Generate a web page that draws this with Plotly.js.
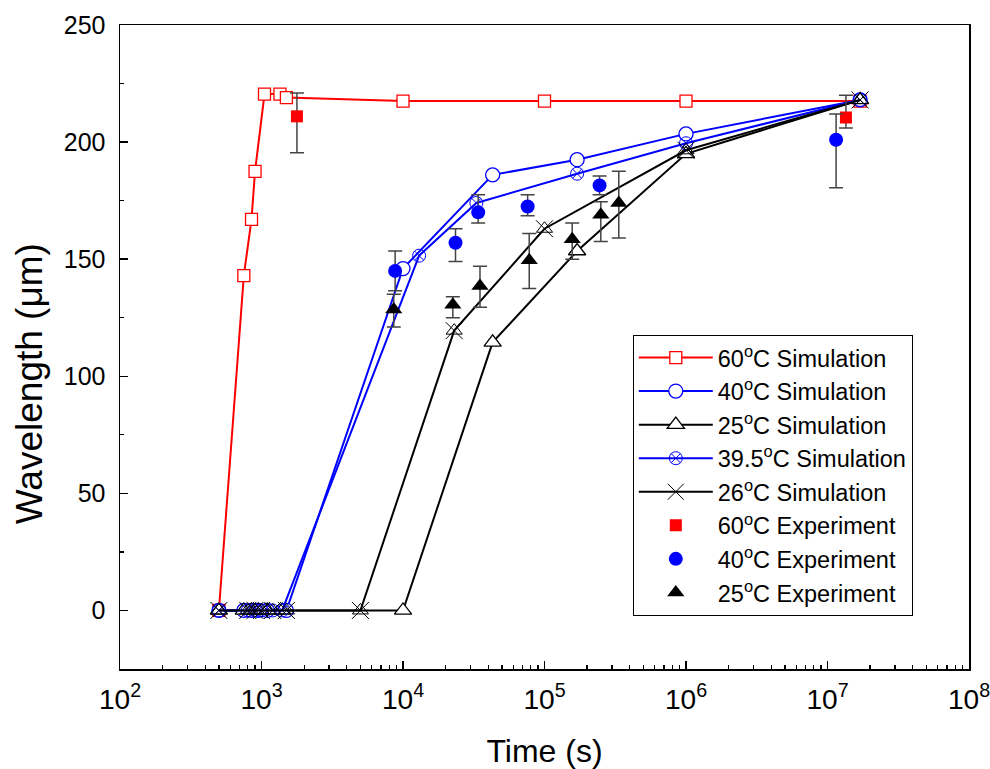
<!DOCTYPE html>
<html>
<head>
<meta charset="utf-8">
<script src="https://cdn.plot.ly/plotly-3.0.1.min.js"></script>
<style>html,body{margin:0;padding:0;background:#fff;}#chart{width:990px;height:769px;}</style>
</head>
<body>
<div id="chart"></div>
<script>
// Simulation series
const t60 = [500, 750, 850, 900, 1050, 1350, 1500, 1e4, 1e5, 1e6, 1.7e7];
const w60 = [0, 143, 167, 187.5, 220.5, 220.5, 219, 217.5, 217.5, 217.5, 217.5];

const t40 = [500, 750, 850, 950, 1100, 1500, 1e4, 4.3e4, 1.7e5, 1e6, 1.7e7];
const w40 = [0, 0, 0, 0, 0, 0, 146, 186, 192.5, 203.5, 218];

const t395 = [500, 800, 900, 1000, 1200, 1400, 1.3e4, 3.3e4, 1.7e5, 1e6, 1.7e7];
const w395 = [0, 0, 0, 0, 0, 0, 151.5, 174, 186.5, 199.5, 218];

const t25 = [500, 750, 850, 950, 1100, 1400, 1e4, 4.3e4, 1.7e5, 1e6, 1.7e7];
const w25 = [0, 0, 0, 0, 0, 0, 0, 114.5, 153.5, 195, 218];

const t26 = [500, 800, 900, 1000, 1200, 1500, 5000, 2.3e4, 1e5, 1e6, 1.7e7];
const w26 = [0, 0, 0, 0, 0, 0, 0, 119.5, 163, 196.5, 218];

// Experiment series
const tE60 = [1780, 1.35e7];
const wE60 = [211, 210.5];
const eE60p = [10, 9.5];
const eE60m = [15.5, 4.5];

const tE40 = [8800, 2.35e4, 3.4e4, 7.6e4, 2.45e5, 1.15e7];
const wE40 = [145, 157, 170, 172.5, 181.5, 201];
const eE40p = [8.5, 6, 7.5, 5, 4, 11];
const eE40m = [8.5, 8, 4.5, 4, 4, 20.5];

const tE25 = [8600, 2.25e4, 3.5e4, 7.8e4, 1.57e5, 2.5e5, 3.35e5];
const wE25 = [128.5, 130.5, 138.5, 149.5, 158.5, 169, 174];
const eE25p = [6.5, 3.5, 8.5, 11.5, 7, 5.5, 13.5];
const eE25m = [7.5, 5.5, 9, 12, 8.5, 11.5, 15];

const labels = ['60<sup>o</sup>C Simulation', '40<sup>o</sup>C Simulation', '25<sup>o</sup>C Simulation',
  '39.5<sup>o</sup>C Simulation', '26<sup>o</sup>C Simulation',
  '60<sup>o</sup>C Experiment', '40<sup>o</sup>C Experiment', '25<sup>o</sup>C Experiment'];

const xTitle = 'Time (s)';
const yTitle = 'Wavelength (\u03bcm)';

const RED = '#ff0000', BLUE = '#0000ff', BLACK = '#000000', ERR = '#444444';

function errObj(p, m) {
  return {type: 'data', symmetric: false, array: p, arrayminus: m, color: ERR, thickness: 1.5, width: 7};
}

const data = [
  {x: t60, y: w60, name: labels[0], mode: 'lines+markers', line: {color: RED, width: 2},
   marker: {symbol: 'square', size: 12, color: '#ffffff', line: {color: RED, width: 1.3}}},
  {x: t40, y: w40, name: labels[1], mode: 'lines+markers', line: {color: BLUE, width: 2},
   marker: {symbol: 'circle', size: 14, color: '#ffffff', line: {color: BLUE, width: 1.3}}},
  {x: t25, y: w25, name: labels[2], mode: 'lines+markers', line: {color: BLACK, width: 2},
   marker: {symbol: 'triangle-up', size: 15, color: '#ffffff', line: {color: BLACK, width: 1.3}}},
  {x: t395, y: w395, name: labels[3], mode: 'lines+markers', line: {color: BLUE, width: 2},
   marker: {symbol: 'circle-x-open', size: 13, color: BLUE, line: {color: BLUE, width: 1}}},
  {x: t26, y: w26, name: labels[4], mode: 'lines+markers', line: {color: BLACK, width: 2},
   marker: {symbol: 'x-thin-open', size: 17, color: BLACK, line: {color: BLACK, width: 1}}},
  {x: t26, y: w26, name: labels[4], mode: 'markers', showlegend: false,
   marker: {symbol: 'triangle-up-open', size: 14, color: BLACK, line: {color: BLACK, width: 1}}},
  {x: tE60, y: wE60, name: labels[5], mode: 'markers', error_y: errObj(eE60p, eE60m),
   marker: {symbol: 'square', size: 12, color: RED}},
  {x: tE40, y: wE40, name: labels[6], mode: 'markers', error_y: errObj(eE40p, eE40m),
   marker: {symbol: 'circle', size: 14, color: BLUE}},
  {x: tE25, y: wE25, name: labels[7], mode: 'markers', error_y: errObj(eE25p, eE25m),
   marker: {symbol: 'triangle-up', size: 15, color: BLACK}}
];

const FONT = 'Liberation Sans, Arial, sans-serif';

const layout = {
  width: 990, height: 769,
  margin: {l: 120, r: 21, t: 25, b: 100},
  paper_bgcolor: '#ffffff', plot_bgcolor: '#ffffff',
  font: {family: FONT, color: '#000'},
  showlegend: true,
  legend: {x: 0.604, y: 0.519, xanchor: 'left', yanchor: 'top',
    bordercolor: '#000', borderwidth: 1, bgcolor: '#ffffff',
    font: {family: FONT, size: 23.5, color: '#000'}, tracegroupgap: 0, itemwidth: 74},
  xaxis: {type: 'log', range: [2, 8], dtick: 1, exponentformat: 'power',
    showline: true, linecolor: '#000', linewidth: 1.5, mirror: true,
    ticks: 'inside', ticklen: 8, tickwidth: 1.5, tickcolor: '#000',
    minor: {dtick: 'D1', ticks: 'inside', ticklen: 4, tickwidth: 1.2, tickcolor: '#000', showgrid: false},
    showgrid: false, zeroline: false, ticklabelstandoff: 6, ticklabeloverflow: 'allow',
    tickfont: {family: FONT, size: 22.5},
    title: {text: xTitle, font: {family: FONT, size: 32}, standoff: 25}},
  yaxis: {range: [-25, 250], dtick: 50, tick0: 0,
    showline: true, linecolor: '#000', linewidth: 1.5, mirror: true,
    ticks: 'inside', ticklen: 8, tickwidth: 1.5, tickcolor: '#000',
    minor: {dtick: 25, ticks: 'inside', ticklen: 4, tickwidth: 1.2, tickcolor: '#000', showgrid: false},
    showgrid: false, zeroline: false, ticklabelstandoff: 8,
    tickfont: {family: FONT, size: 25}},
  annotations: [{text: yTitle, xref: 'paper', yref: 'paper', x: -0.107, y: 0.4425,
    xanchor: 'center', yanchor: 'middle', textangle: -90, showarrow: false,
    font: {family: FONT, size: 37, color: '#000'}}]
};

Plotly.newPlot('chart', data, layout, {displayModeBar: false, staticPlot: true});
</script>
</body>
</html>
